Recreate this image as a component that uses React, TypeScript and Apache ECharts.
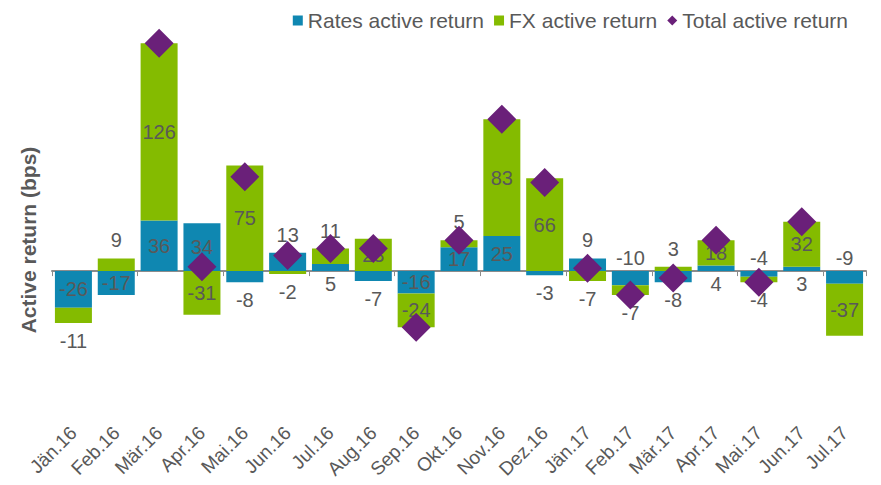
import React, { useEffect, useRef } from "react";
import * as echarts from "echarts";

const categories = [
  "Jän.16", "Feb.16", "Mär.16", "Apr.16", "Mai.16", "Jun.16", "Jul.16", "Aug.16", "Sep.16", "Okt.16",
  "Nov.16", "Dez.16", "Jän.17", "Feb.17", "Mär.17", "Apr.17", "Mai.17", "Jun.17", "Jul.17",
];
const ratesActive = [-26, -17, 36, 34, -8, 13, 5, -7, -16, 17, 25, -3, 9, -10, -8, 4, -4, 3, -9];
const fxActive = [-11, 9, 126, -31, 75, -2, 11, 23, -24, 5, 83, 66, -7, -7, 3, 18, -4, 32, -37];
const totalActive: (number | null)[] = [null, null, 162, 3, 67, 11, 16, 16, -40, 22, 108, 63, 2, -17, -5, 22, -8, 35, null];
const seriesNames = ["Rates active return", "FX active return", "Total active return"];

const FONT = "'Liberation Sans', Arial, Helvetica, sans-serif";
const TEXT = "#595959";
const BLUE = "#0F87B1";
const GREEN = "#84BB00";
const PURPLE = "#6A2079";
const BIG = 16;

function ratesLabel(r: number, f: number) {
  if (Math.abs(r) >= BIG) return { position: "inside" };
  if (f !== 0 && Math.sign(f) === Math.sign(r)) {
    return { position: r < 0 ? "top" : "bottom", distance: 3 };
  }
  return { position: r > 0 ? "top" : "bottom", distance: 8 };
}
function fxLabel(f: number) {
  if (Math.abs(f) >= BIG) return { position: "inside" };
  return { position: f > 0 ? "top" : "bottom", distance: 8 };
}

export default function App() {
  const ref = useRef<HTMLDivElement>(null);
  useEffect(() => {
    if (!ref.current) return;
    const chart = echarts.init(ref.current, undefined, { renderer: "svg" });
    const labelBase = { show: true, color: TEXT, fontSize: 20, fontFamily: FONT };
    chart.setOption({
      animation: false,
      textStyle: { fontFamily: FONT },
      legend: {
        right: 28,
        top: 5,
        itemWidth: 10,
        itemHeight: 10,
        itemGap: 10,
        textStyle: { fontSize: 21, color: TEXT, fontFamily: FONT },
        data: [
          { name: seriesNames[0], icon: "rect" },
          { name: seriesNames[1], icon: "rect" },
          { name: seriesNames[2], icon: "diamond" },
        ],
      },
      grid: { left: 52, right: 15, top: 25, bottom: 73.3 },
      xAxis: [
        {
          type: "category",
          data: categories,
          position: "top",
          axisLine: { show: true, onZero: true, lineStyle: { color: "#8c8c8c", width: 2 } },
          axisTick: { show: true, inside: true, length: 5, lineStyle: { color: "#8c8c8c", width: 1 } },
          axisLabel: { show: false },
          splitLine: { show: false },
        },
        {
          type: "category",
          data: categories,
          position: "bottom",
          axisLine: { show: false, onZero: false },
          axisTick: { show: false },
          axisLabel: { interval: 0, rotate: 45, margin: 18, fontSize: 19, color: TEXT, fontFamily: FONT },
          splitLine: { show: false },
        },
      ],
      yAxis: {
        type: "value",
        min: -100,
        max: 175,
        axisLine: { show: false },
        axisTick: { show: false },
        axisLabel: { show: false },
        splitLine: { show: false },
      },
      graphic: [
        {
          type: "text",
          x: 28,
          y: 240,
          rotation: Math.PI / 2,
          style: {
            text: "Active return (bps)",
            font: `bold 21px ${FONT}`,
            fill: TEXT,
            align: "center",
            verticalAlign: "middle",
          },
        },
      ],
      series: [
        {
          name: seriesNames[0],
          type: "bar",
          stack: "total",
          xAxisIndex: 1,
          barWidth: 37,
          itemStyle: { color: BLUE },
          data: ratesActive.map((r, i) => ({
            value: r,
            label: { ...labelBase, ...ratesLabel(r, fxActive[i]) },
          })),
        },
        {
          name: seriesNames[1],
          type: "bar",
          stack: "total",
          xAxisIndex: 1,
          barWidth: 37,
          itemStyle: { color: GREEN },
          data: fxActive.map((f) => ({
            value: f,
            label: { ...labelBase, ...fxLabel(f) },
          })),
        },
        {
          name: seriesNames[2],
          type: "scatter",
          xAxisIndex: 1,
          symbol: "diamond",
          symbolSize: 29,
          itemStyle: { color: PURPLE, opacity: 1 },
          data: totalActive,
          z: 5,
        },
      ],
    });
    return () => chart.dispose();
  }, []);
  return (
    <div
      ref={ref}
      style={{ position: "absolute", left: 0, top: 0, width: 881, height: 485 }}
    />
  );
}
